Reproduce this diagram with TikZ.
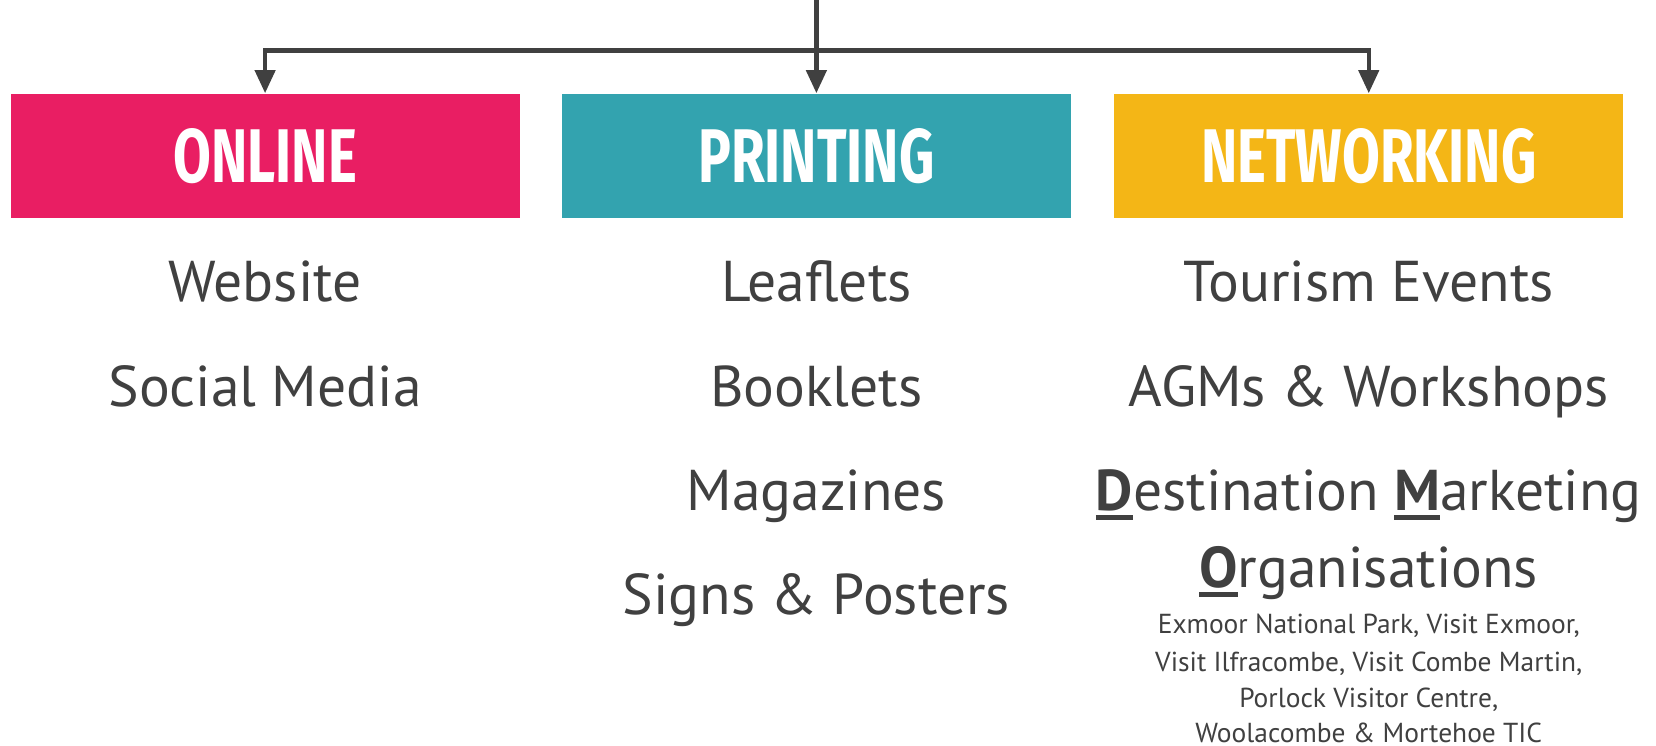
\documentclass[tikz,border=0pt]{standalone}
\usepackage{fontspec}
\setmainfont{PT Sans}
\newfontfamily\headfont[FakeStretch=0.72]{Fira Sans}
\usetikzlibrary{arrows.meta}
\definecolor{onlinepink}{HTML}{E91E63}
\definecolor{printteal}{HTML}{33A3AF}
\definecolor{netamber}{HTML}{F4B616}
\definecolor{inkgray}{HTML}{404040}
\newcommand{\dmo}[1]{\setbox0\hbox{\bfseries #1}\rlap{\rule[-0.17em]{\wd0}{0.08em}}\box0}
\begin{document}
\begin{tikzpicture}[
  headbox/.style={minimum width=4.82cm,minimum height=1.17cm,inner sep=0pt,text=white,
    font=\headfont\bfseries\fontsize{20.5}{24}\selectfont},
  item/.style={anchor=base,text=inkgray,font=\fontsize{15.5}{18}\selectfont},
  note/.style={anchor=base,text=inkgray,font=\fontsize{7.4}{9}\selectfont},
  wire/.style={draw=inkgray,line width=1.2pt},
  link/.style={wire,-{Triangle[length=2.2mm,width=1.9mm]}}]
\useasboundingbox (0,0) rectangle (15.68,-7.06);

\node[headbox,fill=onlinepink] (online) at (2.51,-1.475) {ONLINE};
\node[headbox,fill=printteal] (printing) at (7.73,-1.475) {PRINTING};
\node[headbox,fill=netamber] (networking) at (12.96,-1.475) {NETWORKING};

\coordinate (feed) at (7.73,0);
\coordinate (bar) at (7.73,-0.48);
\draw[link] (feed) -- (printing.north);
\draw[link] (bar) -| (online.north);
\draw[link] (bar) -| (networking.north);

\node[item] (website) at (2.51,-2.85) {Website};
\node[item] (social) at (2.51,-3.85) {Social Media};

\node[item] (leaflets) at (7.73,-2.85) {Leaflets};
\node[item] (booklets) at (7.73,-3.85) {Booklets};
\node[item] (magazines) at (7.73,-4.83) {Magazines};
\node[item] (signs) at (7.73,-5.82) {Signs \& Posters};

\node[item] (events) at (12.96,-2.85) {Tourism Events};
\node[item] (agms) at (12.96,-3.85) {AGMs \& Workshops};
\node[item] (dmo1) at (12.96,-4.83) {\dmo{D}estination \dmo{M}arketing};
\node[item] (dmo2) at (12.96,-5.56) {\dmo{O}rganisations};
\node[note] (orgs1) at (12.96,-6.00) {Exmoor National Park, Visit Exmoor,};
\node[note] (orgs2) at (12.96,-6.36) {Visit Ilfracombe, Visit Combe Martin,};
\node[note] (orgs3) at (12.96,-6.70) {Porlock Visitor Centre,};
\node[note] (orgs4) at (12.96,-7.03) {Woolacombe \& Mortehoe TIC};
\end{tikzpicture}
\end{document}
